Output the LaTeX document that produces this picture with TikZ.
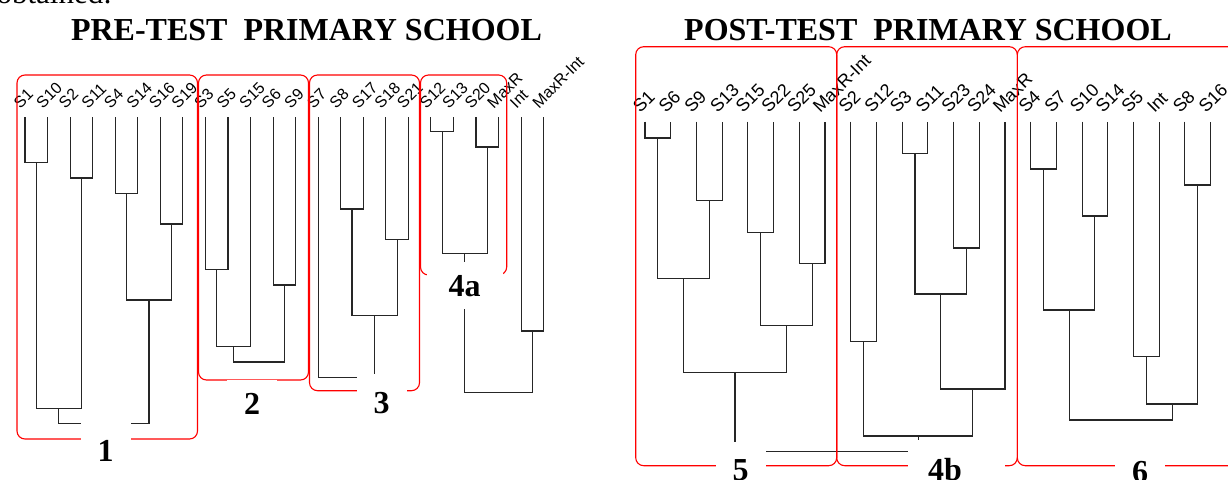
\documentclass[tikz,border=0pt]{standalone}
\usepackage{fontspec}
\setmainfont{Liberation Serif}
\newfontfamily\leaffont{Liberation Sans}
\usetikzlibrary{calc}

\begin{document}
\begin{tikzpicture}[
          % Environment Config
          x=1pt, y=-1pt,
          Branch/.style={% Style for the dendrogram branches
            black!85,
            line width=1.1pt
          },
          Frame/.style={% Style for the red cluster frames
            draw=red,
            line width=1.1pt,
            rounded corners=8pt
          },
          Leaf/.style={% Style for the leaf names
            font=\leaffont\fontsize{#1}{#1}\selectfont,
            rotate=45,
            anchor=south west,
            inner sep=0pt
          },
          Title/.style={% Style for the headings
            font=\bfseries\fontsize{32}{36}\selectfont,
            anchor=base
          },
          Tag/.style={% Style for the cluster numbers
            fill=white,
            font=\bfseries\fontsize{32}{36}\selectfont,
            inner sep=0pt,
            minimum width=50
          }
        ]

        \def\Merge#1#2#3#4{% #1 and #2 meet at height #3, new top is #4
          \draw[Branch] (#1) -- (#1 |- 0,#3) -- (#2 |- 0,#3) -- (#2);
          \coordinate (#4) at ($(#1 |- 0,#3)!0.5!(#2 |- 0,#3)$);
        }

        \useasboundingbox (0,0) rectangle (1228,479);

        \node[font=\fontsize{31}{34}\selectfont, anchor=base west] (intro) at (-7,4) {obtained:};

        % Headings
        \node[Title] (pre) at (306.5,40) {PRE-TEST~ PRIMARY SCHOOL};
        \node[Title] (post) at (928,40) {POST-TEST~ PRIMARY SCHOOL};

        %===Pre-test leaves===
        \foreach \n/\t [count=\i from 0] in {S1/S1,S10/S10,S2/S2,S11/S11,S4/S4,
            S14/S14,S16/S16,S19/S19,S3/S3,S5/S5,S15/S15,S6/S6,S9/S9,S7/S7,S8/S8,
            S17/S17,S18/S18,S21/S21,S12/S12,S13/S13,S20/S20,MaxR/MaxR,Int/Int,
            MaxRInt/MaxR-Int}{
          \coordinate (a\n) at ({25+22.55*\i},117);
          \node[Leaf=16] (la\n) at ($(a\n)+(-4.5,-7.5)$) {\t};
        }

        %===Post-test leaves===
        \foreach \n/\t [count=\i from 0] in {S1/S1,S6/S6,S9/S9,S13/S13,S15/S15,
            S22/S22,S25/S25,MaxRInt/MaxR-Int,S2/S2,S12/S12,S3/S3,S11/S11,S23/S23,
            S24/S24,MaxR/MaxR,S4/S4,S7/S7,S10/S10,S14/S14,S5/S5,Int/Int,S8/S8,
            S16/S16}{
          \coordinate (b\n) at ({645+25.71*\i},121.7);
          \node[Leaf=18] (lb\n) at ($(b\n)+(-4.5,-7.5)$) {\t};
        }

        % Pre-test tree
        \Merge{aS1}{aS10}{162.3}{a1}
        \Merge{aS2}{aS11}{178}{a2}
        \Merge{aS4}{aS14}{193.3}{a3}
        \Merge{aS16}{aS19}{224}{a4}
        \Merge{a3}{a4}{300}{a5}
        \Merge{a1}{a2}{408.3}{a6}
        \Merge{a6}{a5}{423.7}{a7}
        \Merge{aS3}{aS5}{269.3}{a8}
        \Merge{aS6}{aS9}{285}{a9}
        \Merge{a8}{aS15}{346.3}{a10}
        \Merge{a10}{a9}{362}{a11}
        \Merge{aS8}{aS17}{209}{a12}
        \Merge{aS18}{aS21}{239.7}{a13}
        \Merge{a12}{a13}{315.7}{a14}
        \Merge{aS7}{a14}{377.3}{a15}
        \Merge{aS12}{aS13}{131.3}{a16}
        \Merge{aS20}{aMaxR}{147}{a17}
        \Merge{a16}{a17}{253.3}{a18}
        \Merge{aInt}{aMaxRInt}{331}{a19}
        \Merge{a18}{a19}{392.7}{a20}

        % Post-test tree
        \Merge{bS1}{bS6}{138}{b1}
        \Merge{bS9}{bS13}{200.7}{b2}
        \Merge{bS15}{bS22}{232.3}{b3}
        \Merge{bS25}{bMaxRInt}{263.7}{b4}
        \Merge{b1}{b2}{278.7}{b5}
        \Merge{b3}{b4}{325.7}{b6}
        \Merge{b5}{b6}{372.7}{b7}
        \Merge{bS2}{bS12}{341.7}{b8}
        \Merge{bS3}{bS11}{153.3}{b9}
        \Merge{bS23}{bS24}{248}{b10}
        \Merge{b9}{b10}{294}{b11}
        \Merge{b11}{bMaxR}{389}{b12}
        \Merge{b8}{b12}{436}{b13}
        \Merge{b7}{b13}{451.7}{b14}
        \Merge{bS4}{bS7}{169}{b15}
        \Merge{bS10}{bS14}{216}{b16}
        \Merge{b15}{b16}{310}{b17}
        \Merge{bS5}{bInt}{356.7}{b18}
        \Merge{bS8}{bS16}{185}{b19}
        \Merge{b18}{b19}{404}{b20}
        \Merge{b17}{b20}{420}{b21}

        %===Cluster frames===
        \draw[Frame] (17,75) rectangle (197.5,439);
        \draw[Frame] (198.5,75) rectangle (308.5,380);
        \draw[Frame] (309.5,75) rectangle (419.5,390.7);
        \draw[Frame] (420.5,75) rectangle (506.7,275);
        \draw[Frame] (635.7,46.7) rectangle (836.7,465.7);
        \draw[Frame] (836.7,46.7) rectangle (1017.3,465.7);
        \draw[Frame] (1017.3,46.7) rectangle (1245,465.7);

        %===Cluster numbers===
        \node[Tag, minimum height=60] (t1) at (105.5,451) {1};
        \node[Tag, minimum height=48] (t2) at (252,404) {2};
        \node[Tag, minimum height=57] (t3) at (381.5,402.7) {3};
        \node[Tag, minimum width=76, minimum height=47] (t4a) at (464.5,285.7) {4a};
        \node[Tag, minimum height=57] (t5) at (740.5,470) {5};
        \node[Tag, minimum width=97, minimum height=60, text width=57, align=left] (t4b) at (956.5,470) {4b};
        \node[Tag, minimum height=50] (t6) at (1140,472) {6};

        \end{tikzpicture}
\end{document}
